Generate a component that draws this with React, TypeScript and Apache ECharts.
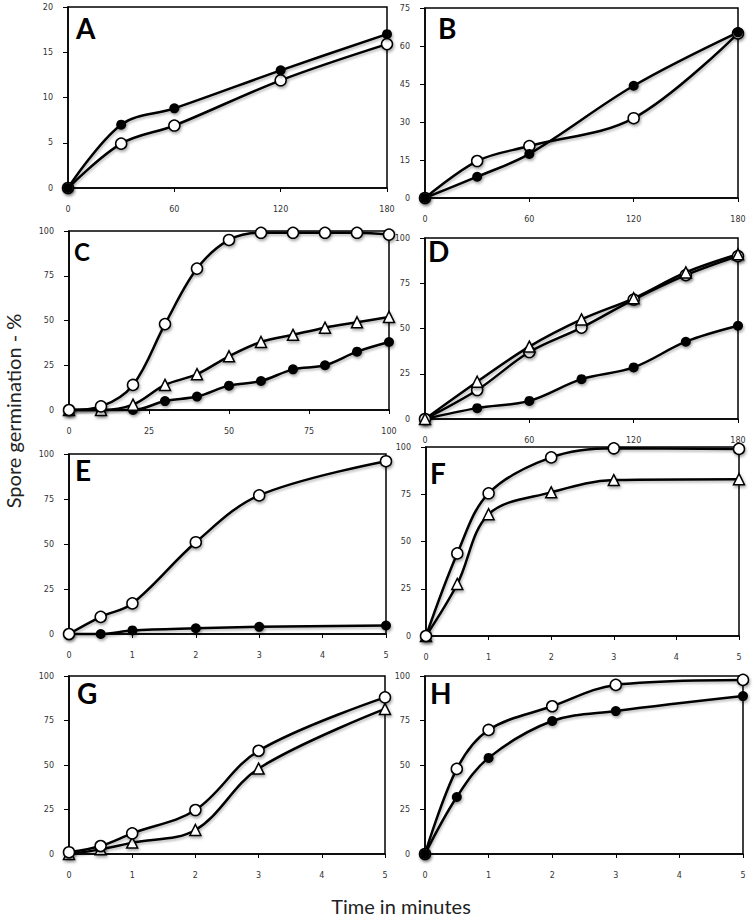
import React, { useEffect, useRef } from "react";
import * as echarts from "echarts";

// ---- data ----
const xA = [0, 30, 60, 120, 180];
const aFilled = [0, 7, 8.8, 13, 17];
const aOpen = [0, 4.9, 6.9, 11.9, 15.9];

const xB = [0, 30, 60, 120, 180];
const bFilled = [0, 8.4, 17.4, 44.3, 65.4];
const bOpen = [0, 14.6, 20.5, 31.5, 65];

const xC = [0, 10, 20, 30, 40, 50, 60, 70, 80, 90, 100];
const cOpen = [0, 2, 14, 48, 79, 95, 99, 99, 99, 99, 98];
const cTri = [0, 0, 3, 14, 20, 30, 38, 42, 46, 49, 52];
const cFilled = [0, 0, 0, 5, 7.5, 13.6, 16.2, 22.7, 25, 32.6, 38];

const xD = [0, 30, 60, 90, 120, 150, 180];
const dOpen = [0, 16, 37, 50.5, 66, 79.5, 90];
const dTri = [0, 20.6, 40, 55, 66.7, 81, 91];
const dFilled = [0, 6, 10, 22, 28.5, 42.7, 51.5];

const xMin = [0, 0.5, 1, 2, 3, 5];
const eOpen = [0, 9.5, 17, 51, 77, 96];
const eFilled = [0, 0, 2, 3.2, 4, 4.7];

const fOpen = [0, 43.7, 75.5, 94.5, 99.3, 99];
const fTri = [0, 27.5, 64.4, 76, 82.5, 83];

const gOpen = [1, 4.5, 11.6, 24.7, 58, 88];
const gTri = [0, 2.6, 6.4, 13.5, 48, 81.5];

const hOpen = [0, 47.8, 69.7, 83, 95, 97.8];
const hFilled = [0, 32, 54, 74.7, 80.3, 88.7];

const panelLetters = ["A", "B", "C", "D", "E", "F", "G", "H"];
const yTitle = "Spore germination - %";
const xTitle = "Time in minutes";

type Kind = "filled" | "open" | "tri";

const panels: {
  x: number[];
  series: { kind: Kind; y: number[] }[];
  xMax: number;
  xInt: number;
  yMax: number;
  yInt: number;
}[] = [
  { x: xA, series: [{ kind: "open", y: aOpen }, { kind: "filled", y: aFilled }], xMax: 180, xInt: 60, yMax: 20, yInt: 5 },
  { x: xB, series: [{ kind: "open", y: bOpen }, { kind: "filled", y: bFilled }], xMax: 180, xInt: 60, yMax: 75, yInt: 15 },
  { x: xC, series: [{ kind: "filled", y: cFilled }, { kind: "tri", y: cTri }, { kind: "open", y: cOpen }], xMax: 100, xInt: 25, yMax: 100, yInt: 25 },
  { x: xD, series: [{ kind: "filled", y: dFilled }, { kind: "open", y: dOpen }, { kind: "tri", y: dTri }], xMax: 180, xInt: 60, yMax: 100, yInt: 25 },
  { x: xMin, series: [{ kind: "filled", y: eFilled }, { kind: "open", y: eOpen }], xMax: 5, xInt: 1, yMax: 100, yInt: 25 },
  { x: xMin, series: [{ kind: "tri", y: fTri }, { kind: "open", y: fOpen }], xMax: 5, xInt: 1, yMax: 100, yInt: 25 },
  { x: xMin, series: [{ kind: "tri", y: gTri }, { kind: "open", y: gOpen }], xMax: 5, xInt: 1, yMax: 100, yInt: 25 },
  { x: xMin, series: [{ kind: "open", y: hOpen }, { kind: "filled", y: hFilled }], xMax: 5, xInt: 1, yMax: 100, yInt: 25 },
];

// layout (px)
const grids = [
  { left: 68, top: 7, width: 319, height: 181 },
  { left: 425, top: 8, width: 313, height: 190 },
  { left: 69, top: 231, width: 320, height: 179 },
  { left: 425, top: 238, width: 313, height: 181 },
  { left: 69, top: 454, width: 317, height: 180 },
  { left: 426, top: 447, width: 313, height: 189 },
  { left: 69, top: 676, width: 316, height: 178 },
  { left: 425, top: 676, width: 318, height: 178 },
];

const letterPos = [
  [76, 28, 28],
  [438, 28, 28],
  [74, 251, 24],
  [428, 251, 28],
  [75, 470, 28],
  [430, 473, 28],
  [77, 693, 28],
  [430, 693, 28],
];

const shadow = {
  shadowColor: "rgba(0,0,0,0.35)",
  shadowBlur: 3,
  shadowOffsetX: 1,
  shadowOffsetY: 2,
};

function seriesStyle(kind: Kind) {
  if (kind === "filled") {
    return { symbol: "circle", symbolSize: 10, itemStyle: { color: "#000", ...shadow } };
  }
  if (kind === "open") {
    return {
      symbol: "circle",
      symbolSize: 11,
      itemStyle: { color: "#fff", borderColor: "#000", borderWidth: 1.5, ...shadow },
    };
  }
  return {
    symbol: "triangle",
    symbolSize: 11,
    itemStyle: { color: "#fff", borderColor: "#000", borderWidth: 1.5, ...shadow },
  };
}

export default function App() {
  const ref = useRef<HTMLDivElement>(null);
  useEffect(() => {
    document.body.style.margin = "0";
    if (!ref.current) return;
    const chart = echarts.init(ref.current, undefined, { renderer: "svg" });

    const tickLabel = { fontFamily: "DejaVu Sans", fontSize: 8, color: "#333" };

    const option: any = {
      animation: false,
      backgroundColor: "#fff",
      grid: grids.map((g) => ({
        ...g,
        show: true,
        borderColor: "#000",
        borderWidth: 1.5,
        backgroundColor: "transparent",
        containLabel: false,
      })),
      xAxis: panels.map((p, i) => ({
        type: "value",
        gridIndex: i,
        min: 0,
        max: p.xMax,
        interval: p.xInt,
        axisLine: { show: true, onZero: false, lineStyle: { color: "#000", width: 1.5 } },
        axisTick: { show: true, length: 4, inside: false, lineStyle: { color: "#000", width: 1 } },
        axisLabel: { ...tickLabel, margin: 17 },
        splitLine: { show: false },
      })),
      yAxis: panels.map((p, i) => ({
        type: "value",
        gridIndex: i,
        min: 0,
        max: p.yMax,
        interval: p.yInt,
        axisLine: { show: true, lineStyle: { color: "#000", width: 1.5 } },
        axisTick: { show: true, length: 5, inside: false, lineStyle: { color: "#000", width: 1 } },
        axisLabel: { ...tickLabel, margin: 15 },
        splitLine: { show: false },
      })),
      series: panels.flatMap((p, i) =>
        p.series.map((s) => ({
          type: "line",
          xAxisIndex: i,
          yAxisIndex: i,
          data: p.x.map((xv, k) => [xv, s.y[k]]),
          smooth: 0.35,
          clip: false,
          showAllSymbol: true,
          lineStyle: { color: "#000", width: 2.5, ...shadow, shadowBlur: 2, shadowColor: "rgba(0,0,0,0.25)" },
          emphasis: { disabled: true },
          ...seriesStyle(s.kind),
        }))
      ),
      graphic: [
        ...panelLetters.map((L, i) => ({
          type: "text",
          left: letterPos[i][0],
          top: letterPos[i][1] - letterPos[i][2] / 2,
          style: {
            text: L,
            fontFamily: "Lato",
            fontWeight: "bold",
            fontSize: letterPos[i][2],
            fill: "#000",
          },
          z: 100,
        })),
        {
          type: "text",
          x: 13,
          y: 411,
          rotation: Math.PI / 2,
          style: {
            text: yTitle,
            fontFamily: "Lato",
            fontSize: 20,
            fill: "#222",
            align: "center",
            verticalAlign: "middle",
          },
        },
        {
          type: "text",
          x: 401,
          y: 906,
          style: {
            text: xTitle,
            fontFamily: "Lato",
            fontSize: 20,
            fill: "#222",
            align: "center",
            verticalAlign: "middle",
          },
        },
      ],
    };
    chart.setOption(option);
    return () => chart.dispose();
  }, []);
  return <div ref={ref} style={{ width: 754, height: 917 }} />;
}
